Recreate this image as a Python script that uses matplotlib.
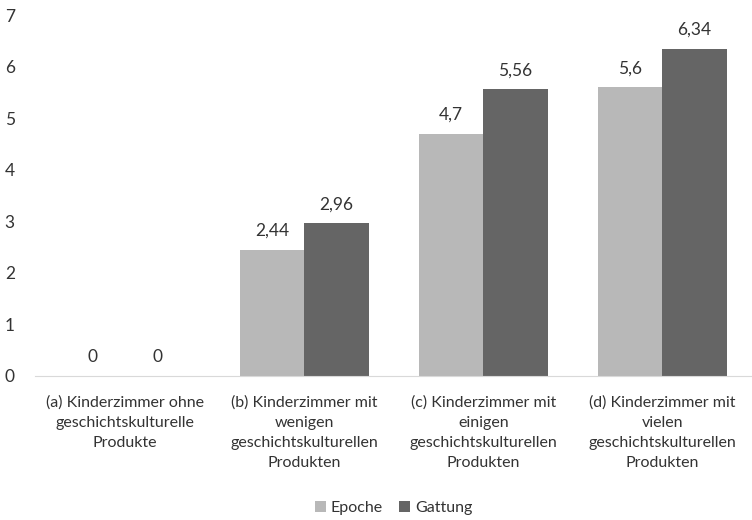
import numpy as np
import matplotlib
matplotlib.use("Agg")
import matplotlib.pyplot as plt

categories = [
    "(a) Kinderzimmer ohne\ngeschichtskulturelle\nProdukte",
    "(b) Kinderzimmer mit\nwenigen\ngeschichtskulturellen\nProdukten",
    "(c) Kinderzimmer mit\neinigen\ngeschichtskulturellen\nProdukten",
    "(d) Kinderzimmer mit\nvielen\ngeschichtskulturellen\nProdukten",
]
epoche = [0, 2.44, 4.7, 5.6]
gattung = [0, 2.96, 5.56, 6.34]
series_names = ["Epoche", "Gattung"]
colors = ["#b8b8b8", "#656565"]

plt.rcParams["font.family"] = ["Lato", "DejaVu Sans"]
text_color = "#333333"

fig = plt.figure(figsize=(7.52, 5.2), dpi=100)
ax = fig.add_axes([0.047, 0.277, 0.953, 0.694])

x = np.arange(len(categories))
w = 0.36
bars_e = ax.bar(x - w / 2, epoche, w, color=colors[0], label=series_names[0])
bars_g = ax.bar(x + w / 2, gattung, w, color=colors[1], label=series_names[1])

for bars, vals in ((bars_e, epoche), (bars_g, gattung)):
    for b, v in zip(bars, vals):
        ax.annotate(f"{v:g}".replace(".", ","),
                    (b.get_x() + b.get_width() / 2, v),
                    xytext=(0, 8), textcoords="offset points",
                    ha="center", va="bottom", fontsize=12.5, color=text_color)

ax.set_xlim(-0.5, 3.5)
ax.set_ylim(0, 7)
ax.set_yticks(range(0, 8))
ax.set_xticks(x)
ax.set_xticklabels(categories, fontsize=11.5, color=text_color, linespacing=1.55)
ax.tick_params(axis="y", length=0, pad=22, labelsize=12.5, labelcolor=text_color)
ax.tick_params(axis="x", length=0, pad=14)
for lbl in ax.get_yticklabels():
    lbl.set_horizontalalignment("left")

for s in ("top", "right", "left"):
    ax.spines[s].set_visible(False)
ax.spines["bottom"].set_color("#d9d9d9")

ax.legend(loc="center", bbox_to_anchor=(0.5, -0.366), ncol=2, frameon=False,
          fontsize=11.5, handlelength=0.7, handleheight=0.7, columnspacing=1.0,
          handletextpad=0.3, labelcolor=text_color)

fig.savefig("out.png", dpi=100)
